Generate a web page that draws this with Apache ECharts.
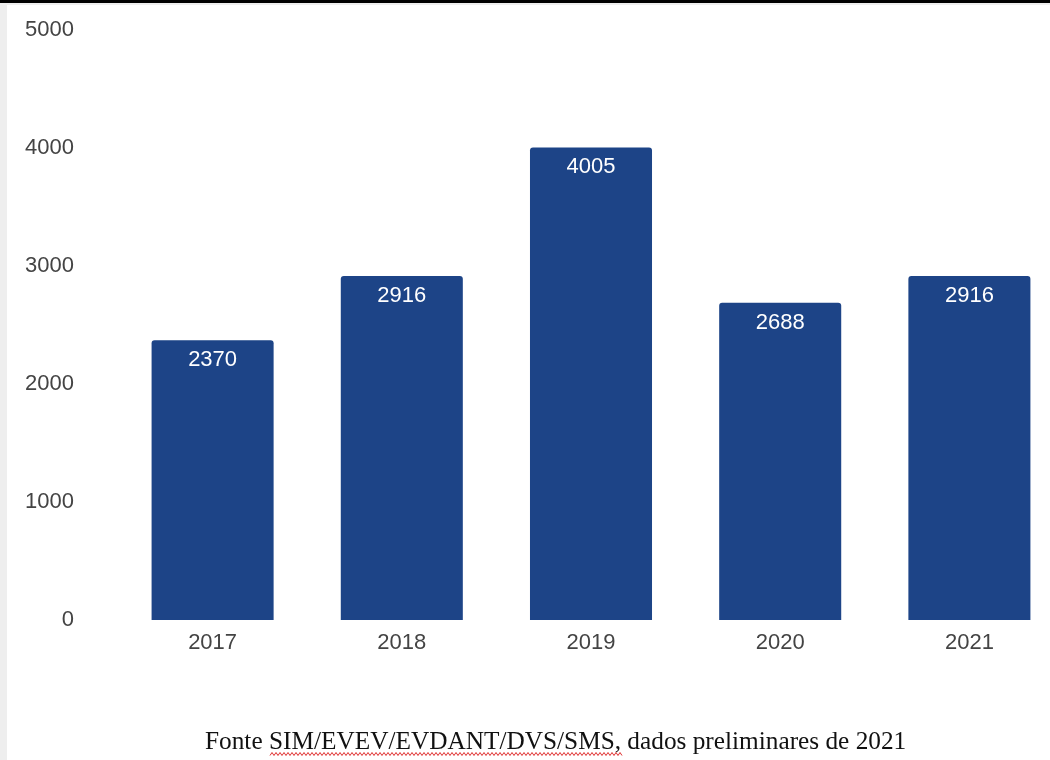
<!DOCTYPE html>
<html>
<head>
<meta charset="utf-8">
<script src="https://cdn.jsdelivr.net/npm/echarts@6/dist/echarts.min.js"></script>
<style>
  html, body { margin: 0; padding: 0; background: #fff; }
  #chart { width: 1050px; height: 760px; }
</style>
</head>
<body>
<div id="chart"></div>
<script>
const years = ['2017', '2018', '2019', '2020', '2021']
const cases = [2370, 2916, 4005, 2688, 2916]
const yTicks = { min: 0, max: 5000, interval: 1000 }
const sourceNote = 'Fonte SIM/EVEV/EVDANT/DVS/SMS, dados preliminares de 2021'

const chart = echarts.init(document.getElementById('chart'))

// red spell-check squiggle under the acronym in the source note
const squiggle = []
for (let x = 270, i = 0; x <= 623; x += 2, i++) {
  squiggle.push([x, i % 2 ? 752.5 : 755.5])
}

chart.setOption({
  backgroundColor: '#fff',
  animation: false,
  grid: { left: 118, right: -14, top: 30, bottom: 140, outerBoundsMode: 'none' },
  xAxis: {
    type: 'category',
    data: years,
    axisLine: { show: false },
    axisTick: { show: false },
    axisLabel: { color: '#444', fontSize: 22, fontFamily: 'Liberation Sans', margin: 12 }
  },
  yAxis: {
    type: 'value',
    min: yTicks.min,
    max: yTicks.max,
    interval: yTicks.interval,
    splitLine: { show: false },
    axisLine: { show: false },
    axisTick: { show: false },
    axisLabel: {
      color: '#444',
      fontSize: 22,
      fontFamily: 'Liberation Sans',
      margin: 44,
      formatter: v => String(v)
    }
  },
  series: [{
    type: 'bar',
    data: cases,
    barWidth: '64.5%',
    itemStyle: { color: '#1d4487', borderRadius: [3, 3, 0, 0] },
    label: {
      show: true,
      position: 'insideTop',
      distance: 9,
      color: '#fff',
      fontSize: 22,
      fontFamily: 'Liberation Sans'
    }
  }],
  graphic: [
    { type: 'rect', left: 0, top: 0, shape: { width: 1050, height: 3 }, style: { fill: '#000' } },
    { type: 'rect', left: 0, top: 3, shape: { width: 1050, height: 2 }, style: { fill: '#eee' } },
    { type: 'rect', left: 0, top: 5, shape: { width: 7, height: 755 }, style: { fill: '#eee' } },
    {
      type: 'text',
      left: 205,
      top: 730,
      style: { text: sourceNote, fill: '#111', font: '25.3px "Liberation Serif"' }
    },
    {
      type: 'polyline',
      shape: { points: squiggle },
      style: { stroke: '#e03030', lineWidth: 1, fill: null }
    }
  ]
})
</script>
</body>
</html>
